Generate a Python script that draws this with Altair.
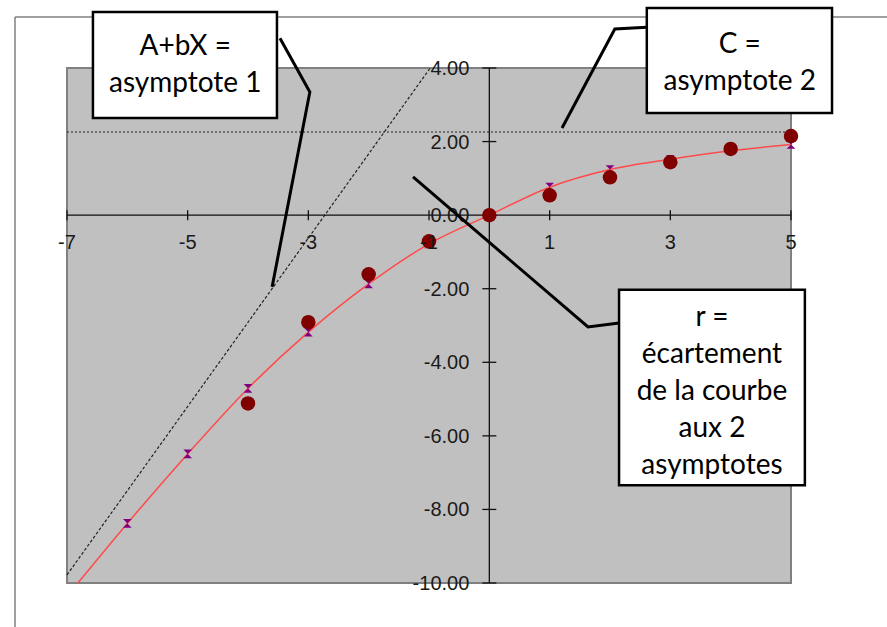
import altair as alt
import pandas as pd

# ---- data ----
x_ticks = [-7, -5, -3, -1, 1, 3, 5]
y_ticks = [4, 2, 0, -2, -4, -6, -8, -10]
y_tick_labels = ["4.00", "2.00", "0.00", "-2.00", "-4.00", "-6.00", "-8.00", "-10.00"]

obs_x = [-4, -3, -2, -1, 0, 1, 2, 3, 4, 5]
obs_y = [-5.12, -2.91, -1.61, -0.71, 0.0, 0.54, 1.03, 1.44, 1.80, 2.15]

fit_x = [-6.82, -6, -5, -4, -3, -2, -1, 0, 1, 2, 3, 4, 5]
fit_y = [-10.0, -8.38, -6.49, -4.71, -3.18, -1.87, -0.78, 0.0, 0.76, 1.24, 1.52, 1.75, 1.92]

marker_x = [-6, -5, -4, -3, -2, -1, 0, 1, 2, 3, 4, 5]
marker_y = [-8.38, -6.49, -4.71, -3.18, -1.87, -0.78, 0.0, 0.76, 1.24, 1.52, 1.75, 1.92]

asym1_x = [-7.0, -0.98]
asym1_y = [-9.78, 4.0]
asym2_x = [-7.0, 5.0]
asym2_y = [2.26, 2.26]

# callout annotations (in data units)
box_x1 = [-6.57, 2.61, 2.15]
box_x2 = [-3.52, 5.68, 5.23]
box_y1 = [5.52, 5.63, -2.03]
box_y2 = [2.64, 2.78, -7.34]

note_text = ["A+bX =", "asymptote 1", "C =", "asymptote 2",
             "r =", "écartement", "de la courbe", "aux 2", "asymptotes"]
note_x = [-5.04, -5.04, 4.15, 4.15, 3.69, 3.69, 3.69, 3.69, 3.69]
note_y = [4.57, 3.57, 4.63, 3.62, -2.80, -3.80, -4.81, -5.82, -6.82]

leader_g = [1, 1, 1, 2, 2, 2, 3, 3, 3]
leader_o = [0, 1, 2, 0, 1, 2, 0, 1, 2]
leader_x = [-3.47, -2.975, -3.60, 2.61, 2.08, 1.205, 2.15, 1.635, -1.265]
leader_y = [4.81, 3.35, -1.95, 5.11, 5.06, 2.37, -2.93, -3.04, 1.04]

# ---- tables ----
xs = alt.Scale(domain=[-7, 5], nice=False, zero=False)
ys = alt.Scale(domain=[-10, 4], nice=False, zero=False)

df_xt = pd.DataFrame({"t": x_ticks, "z": [0] * len(x_ticks), "lab": [str(v) for v in x_ticks]})
df_yt = pd.DataFrame({"t": y_ticks, "z": [0] * len(y_ticks), "lab": y_tick_labels})
df_obs = pd.DataFrame({"x": obs_x, "y": obs_y})
df_fit = pd.DataFrame({"x": fit_x, "y": fit_y})
df_mk = pd.DataFrame({"x": marker_x, "y": marker_y})
df_a1 = pd.DataFrame({"x": asym1_x, "y": asym1_y})
df_a2 = pd.DataFrame({"x": asym2_x, "y": asym2_y})
df_box = pd.DataFrame({"x1": box_x1, "x2": box_x2, "y1": box_y1, "y2": box_y2})
df_note = pd.DataFrame({"x": note_x, "y": note_y, "t": note_text})
df_lead = pd.DataFrame({"g": leader_g, "o": leader_o, "x": leader_x, "y": leader_y})
df_axes = pd.DataFrame({"x1": [-7], "x2": [5], "y1": [-10], "y2": [4], "z": [0]})

X = lambda f: alt.X(f, type="quantitative", scale=xs, axis=None)
Y = lambda f: alt.Y(f, type="quantitative", scale=ys, axis=None)

frame_top = alt.Chart(df_axes).mark_rule(color="#7f7f7f", strokeWidth=1.5).encode(
    x=alt.value(-52), x2=alt.value(830), y=alt.value(-51))
frame_left = alt.Chart(df_axes).mark_rule(color="#7f7f7f", strokeWidth=1.5).encode(
    x=alt.value(-52), y=alt.value(-51), y2=alt.value(570))

asym1 = alt.Chart(df_a1).mark_line(color="#222222", strokeWidth=1.2, strokeDash=[3, 2]).encode(
    x=X("x"), y=Y("y"))
asym2 = alt.Chart(df_a2).mark_line(color="#222222", strokeWidth=1.2, strokeDash=[2, 2]).encode(
    x=X("x"), y=Y("y"))

xaxis = alt.Chart(df_axes).mark_rule(color="#111", strokeWidth=1.3).encode(
    x=X("x1"), x2="x2", y=Y("z"))
yaxis = alt.Chart(df_axes).mark_rule(color="#111", strokeWidth=1.3).encode(
    x=X("z"), y=Y("y1"), y2="y2")
xtick = alt.Chart(df_xt).mark_rule(color="#111", strokeWidth=1.3, yOffset=-5, y2Offset=5).encode(
    x=X("t"), y=Y("z"), y2="z")
ytick = alt.Chart(df_yt).mark_rule(color="#111", strokeWidth=1.3, xOffset=-7, x2Offset=7).encode(
    y=Y("t"), x=X("z"), x2="z")

fit = alt.Chart(df_fit).mark_line(color="#ff4a4a", strokeWidth=1.5, interpolate="monotone").encode(
    x=X("x"), y=Y("y"))
marks = alt.Chart(df_mk).mark_point(
    shape="M-1,-1L1,-1L-1,1L1,1Z", filled=True, color="#800080", size=75, opacity=1).encode(
    x=X("x"), y=Y("y"))
obs = alt.Chart(df_obs).mark_circle(color="#800000", size=210, opacity=1).encode(
    x=X("x"), y=Y("y"))

xlab = alt.Chart(df_xt).mark_text(font="Liberation Sans", fontSize=20, color="#1a1a1a",
                                  baseline="middle", dy=28).encode(
    x=X("t"), y=Y("z"), text="lab")
ylab = alt.Chart(df_yt).mark_text(font="Liberation Sans", fontSize=20, color="#1a1a1a",
                                  baseline="middle", align="right", dx=-20, dy=1).encode(
    x=X("z"), y=Y("t"), text="lab")

leaders = alt.Chart(df_lead).mark_line(color="black", strokeWidth=3).encode(
    x=X("x"), y=Y("y"), detail="g:N", order="o:Q")
boxes = alt.Chart(df_box).mark_rect(fill="white", stroke="black", strokeWidth=2.5).encode(
    x=X("x1"), x2="x2", y=Y("y1"), y2="y2")
notes = alt.Chart(df_note).mark_text(font="Lato", fontSize=28, color="black",
                                     baseline="middle", align="center").encode(
    x=X("x"), y=Y("y"), text="t")

chart = alt.layer(
    frame_top, frame_left, asym1, asym2, xaxis, yaxis, xtick, ytick,
    fit, marks, obs, xlab, ylab, leaders, boxes, notes
).properties(
    width=724, height=515,
    padding={"left": 67, "top": 68, "right": 96, "bottom": 44},
    autosize="none",
    background="white",
).configure_view(fill="#C0C0C0", stroke="#808080", strokeWidth=2)

chart.save("out.html", embed_options={"renderer": "svg", "actions": False})
